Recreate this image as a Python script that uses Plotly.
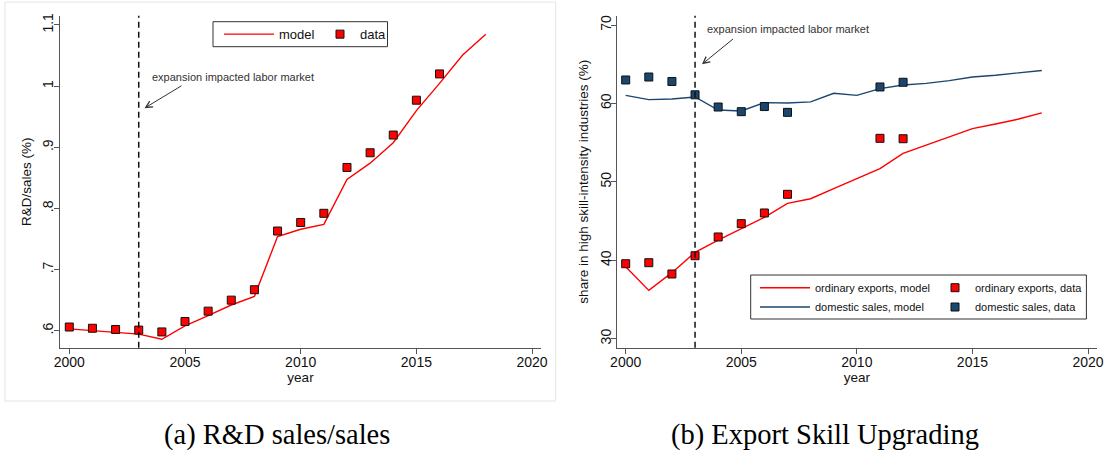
import plotly.graph_objects as go

# ---------------- data ----------------
years_model = list(range(2000, 2019))
rd_model = [0.603, 0.6005, 0.598, 0.5945, 0.586, 0.608, 0.6245, 0.642, 0.656, 0.754,
            0.766, 0.774, 0.8475, 0.874, 0.9075, 0.960, 1.0045, 1.051, 1.085]
years_rd_data = list(range(2000, 2017))
rd_data = [0.606, 0.604, 0.602, 0.601, 0.598, 0.615, 0.632, 0.650, 0.667, 0.763,
           0.777, 0.792, 0.867, 0.891, 0.920, 0.977, 1.020]

ord_model = [39.18, 36.16, 38.42, 41.01, 42.58, 43.98, 45.47, 47.26, 47.85, 49.13,
             50.40, 51.68, 53.63, 54.70, 55.68, 56.78, 57.37, 58.01, 58.80]
dom_model = [61.03, 60.48, 60.56, 60.82, 59.16, 59.03, 60.10, 60.05, 60.20, 61.29,
             61.03, 61.88, 62.35, 62.56, 62.90, 63.37, 63.60, 63.90, 64.20]
years_skill_data = [2000, 2001, 2002, 2003, 2004, 2005, 2006, 2007, 2011, 2012]
ord_data = [39.56, 39.69, 38.25, 40.58, 42.97, 44.67, 46.03, 48.41, 55.55, 55.50]
dom_data = [62.99, 63.37, 62.80, 61.10, 59.54, 58.95, 59.60, 58.86, 62.10, 62.70]

expansion_year = 2003
x_ticks = [2000, 2005, 2010, 2015, 2020]
rd_ticks = [0.6, 0.7, 0.8, 0.9, 1.0, 1.1]
rd_ticktext = [".6", ".7", ".8", ".9", "1", "1.1"]
skill_ticks = [30, 40, 50, 60, 70]
annot_text = "expansion impacted labor market"
caption_a = "(a) R&D sales/sales"
caption_b = "(b) Export Skill Upgrading"

# ---------------- style ----------------
W, H = 1107, 452
RED = "#ff0000"
NAVY = "#1a476f"
AX = "#555555"
SANS = "Liberation Sans, Arial, sans-serif"
SERIF = "Liberation Serif, Times New Roman, serif"


def px(x):
    return x / W


def py(y):
    return 1 - y / H


MARK = dict(symbol="square", size=8, line=dict(color="#111111", width=1))

fig = go.Figure()

fig.add_trace(go.Scatter(x=years_model, y=rd_model, mode="lines", name="model",
                         line=dict(color=RED, width=1.4), xaxis="x", yaxis="y",
                         legend="legend"))
fig.add_trace(go.Scatter(x=years_rd_data, y=rd_data, mode="markers", name="data",
                         marker=dict(color=RED, **MARK),
                         xaxis="x", yaxis="y", legend="legend2"))

fig.add_trace(go.Scatter(x=years_model, y=ord_model, mode="lines",
                         name="ordinary exports, model",
                         line=dict(color=RED, width=1.4), xaxis="x2", yaxis="y2",
                         legend="legend3"))
fig.add_trace(go.Scatter(x=years_model, y=dom_model, mode="lines",
                         name="domestic sales, model",
                         line=dict(color=NAVY, width=1.4), xaxis="x2", yaxis="y2",
                         legend="legend5"))
fig.add_trace(go.Scatter(x=years_skill_data, y=dom_data, mode="markers",
                         name="domestic sales, data",
                         marker=dict(color=NAVY, **MARK),
                         xaxis="x2", yaxis="y2", legend="legend6"))
fig.add_trace(go.Scatter(x=years_skill_data, y=ord_data, mode="markers",
                         name="ordinary exports, data",
                         marker=dict(color=RED, **MARK),
                         xaxis="x2", yaxis="y2", legend="legend4"))

axis_common = dict(showline=True, linecolor=AX, linewidth=1.3, ticks="outside",
                   ticklen=5, tickwidth=1.3, tickcolor=AX, showgrid=False,
                   zeroline=False, automargin=False,
                   tickfont=dict(family=SANS, size=14, color="#111111"))


def leg(x, y, size, itemwidth):
    return dict(orientation="h", x=px(x), y=py(y), xanchor="left", yanchor="middle",
                borderwidth=0, bgcolor="rgba(0,0,0,0)", font=dict(size=size),
                itemwidth=itemwidth)


fig.update_layout(
    width=W, height=H,
    margin=dict(l=0, r=0, t=0, b=0),
    paper_bgcolor="white", plot_bgcolor="white",
    font=dict(family=SANS, color="#111111"),
    xaxis=dict(domain=[px(60), px(541)], range=[1999.598, 2020.385],
               tickvals=x_ticks, anchor="y", ticklabelstandoff=-4,
               title=dict(text="year", font=dict(size=13.5), standoff=2),
               **axis_common),
    yaxis=dict(domain=[py(347.7), py(15.7)], range=[0.5722, 1.1152],
               tickvals=rd_ticks, ticktext=rd_ticktext, tickangle=-90, anchor="x",
               ticklabelstandoff=-5,
               title=dict(text="R&D/sales (%)", font=dict(size=13.5), standoff=5),
               **axis_common),
    xaxis2=dict(domain=[px(616.7), px(1097)], range=[1999.611, 2020.389],
                tickvals=x_ticks, anchor="y2", ticklabelstandoff=-4,
                title=dict(text="year", font=dict(size=13.5), standoff=2),
                **axis_common),
    yaxis2=dict(domain=[py(347.7), py(15.7)], range=[28.852, 71.186],
                tickvals=skill_ticks, tickangle=-90, anchor="x2",
                ticklabelstandoff=-6,
                title=dict(text="share in high skill-intensity industries (%)",
                           font=dict(size=13.5), standoff=6),
                **axis_common),
    legend=leg(219, 34.2, 13, 50),
    legend2=leg(320, 34.2, 13, 30),
    legend3=leg(755, 287.7, 11, 50),
    legend4=leg(935, 287.7, 11, 30),
    legend5=leg(755, 307, 11, 50),
    legend6=leg(935, 307, 11, 30),
    showlegend=True,
)

# panel border (left graph region)
fig.add_shape(type="rect", xref="paper", yref="paper",
              x0=px(5), x1=px(555.7), y0=py(401), y1=py(2),
              line=dict(color="#dfe6e6", width=1), layer="below")
# legend boxes
fig.add_shape(type="rect", xref="paper", yref="paper",
              x0=px(213), x1=px(387.5), y0=py(46.7), y1=py(21.7),
              line=dict(color="#333333", width=1), fillcolor="white", layer="below")
fig.add_shape(type="rect", xref="paper", yref="paper",
              x0=px(750.7), x1=px(1086.4), y0=py(319), y1=py(275),
              line=dict(color="#333333", width=1), fillcolor="white", layer="below")

# vertical dashed lines at expansion year
for xr, yr in (("x", "y"), ("x2", "y2")):
    fig.add_shape(type="line", xref=xr, yref=f"{yr} domain",
                  x0=expansion_year, x1=expansion_year, y0=0, y1=1,
                  line=dict(color="#111111", width=1.5, dash="6px,4px"))

# annotations (text + arrows)
fig.add_annotation(xref="x", yref="y", x=2007.09, y=1.015, text=annot_text,
                   showarrow=False, font=dict(size=11, color="#333333"))
fig.add_annotation(xref="x", yref="y", axref="x", ayref="y", x=2003.25, y=0.964,
                   ax=2004.91, ay=1.002, text="", showarrow=True, arrowhead=5,
                   arrowsize=1.3, arrowwidth=1, arrowcolor="#333333", standoff=0)
fig.add_annotation(xref="x2", yref="y2", x=2007.04, y=69.49, text=annot_text,
                   showarrow=False, font=dict(size=11, color="#333333"))
fig.add_annotation(xref="x2", yref="y2", axref="x2", ayref="y2", x=2003.3, y=64.99,
                   ax=2004.71, ay=68.38, text="", showarrow=True, arrowhead=5,
                   arrowsize=1.3, arrowwidth=1, arrowcolor="#333333", standoff=0)

# captions
fig.add_annotation(xref="paper", yref="paper", x=px(277), y=py(435), text=caption_a,
                   showarrow=False, font=dict(family=SERIF, size=28.5, color="black"),
                   xanchor="center", yanchor="middle")
fig.add_annotation(xref="paper", yref="paper", x=px(825), y=py(435), text=caption_b,
                   showarrow=False, font=dict(family=SERIF, size=28.5, color="black"),
                   xanchor="center", yanchor="middle")

fig.write_html("out.html", config={"displayModeBar": False},
               post_script="document.body.style.margin='0px';")
